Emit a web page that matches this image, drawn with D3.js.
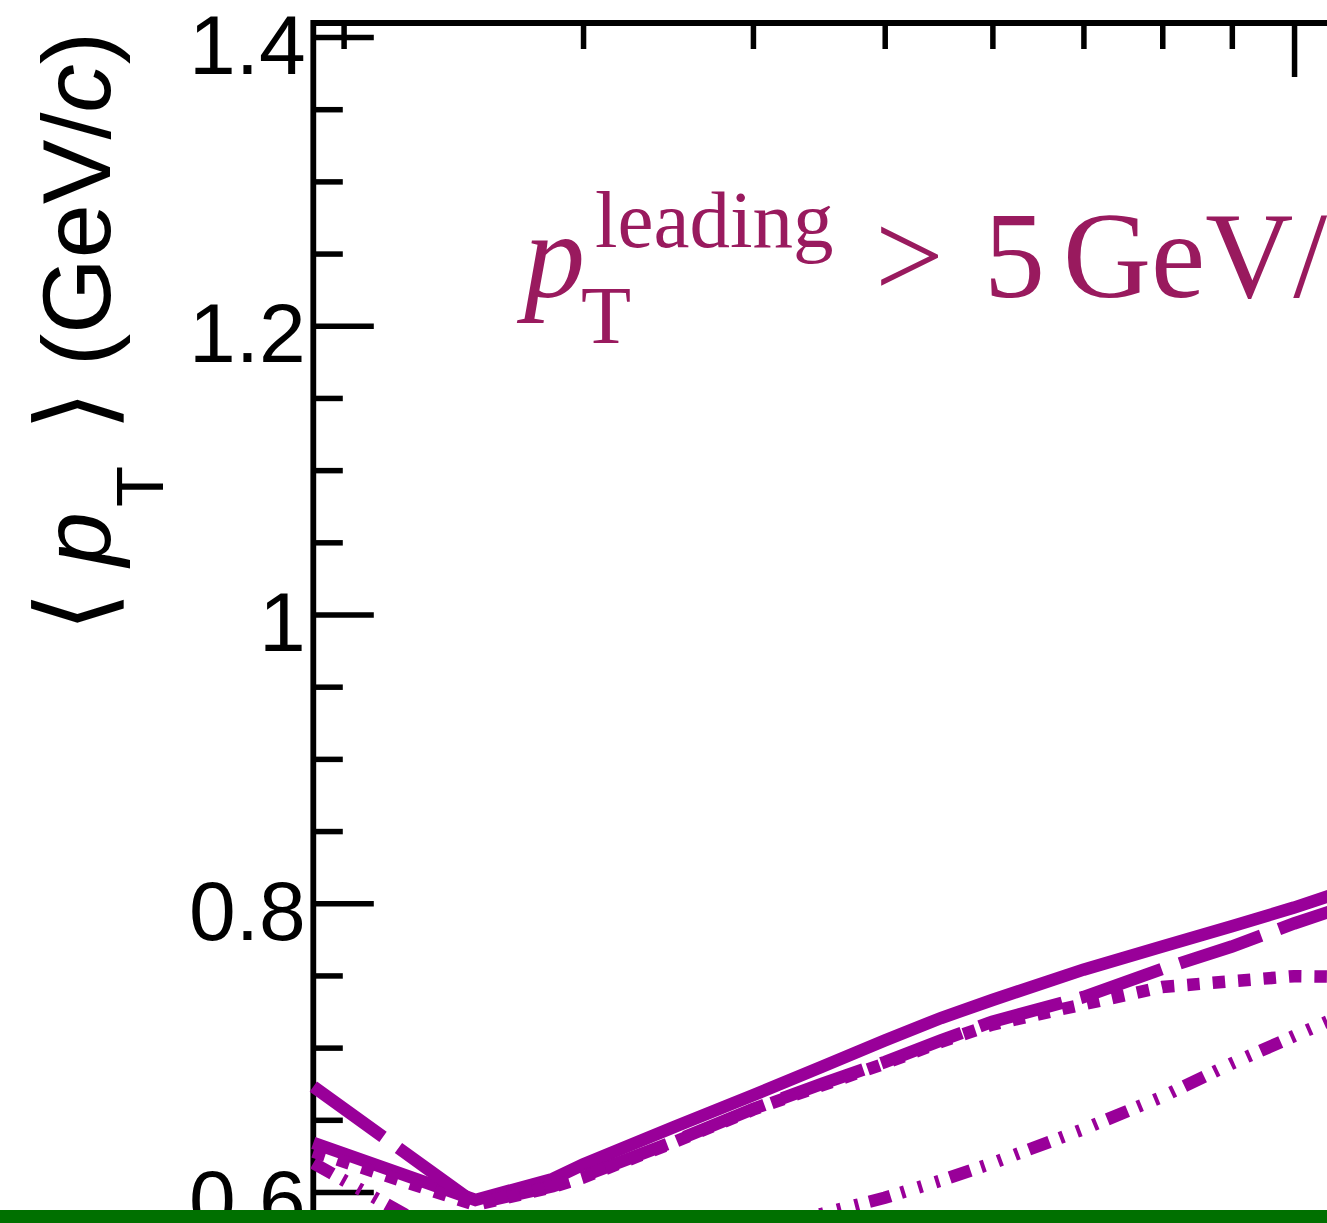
<!DOCTYPE html>
<html>
<head>
<meta charset="utf-8">
<script src="https://cdn.jsdelivr.net/npm/d3@7"></script>
<style>
  html, body { margin: 0; padding: 0; background: #fff; }
  svg { display: block; }
</style>
</head>
<body>
<script>
// Mean transverse momentum versus multiplicity, four model variants
const multiplicity   = [1.9, 2.5, 2.85, 3, 3.5, 4, 4.5, 5, 5.5, 6, 7, 8, 9, 10, 11, 12];
const meanPtSolid    = [0.634, 0.5945, 0.609, 0.619, 0.645, 0.667, 0.687, 0.705, 0.7205, 0.733, 0.754, 0.770, 0.784, 0.797, 0.810, 0.821];
const meanPtDashed   = [0.673, 0.592, 0.604, 0.611, 0.635, 0.6575, 0.675, 0.690, 0.705, 0.718, 0.735, 0.7545, 0.770, 0.786, 0.799, 0.810];
const meanPtDotted   = [0.628, 0.591, 0.6035, 0.610, 0.6345, 0.657, 0.674, 0.689, 0.704, 0.716, 0.730, 0.742, 0.746, 0.7495, 0.749, 0.747];
const meanPtDashDot  = [0.620, 0.557, 0.5495, 0.549, 0.558, 0.572, 0.585, 0.596, 0.608, 0.620, 0.6435, 0.666, 0.689, 0.708, 0.725, 0.741];

const yMajorTicks = [0.6, 0.8, 1.0, 1.2, 1.4];
const yTickLabels = ["0.6", "0.8", "1", "1.2", "1.4"];
const yMinorTicks = [0.55, 0.65, 0.7, 0.75, 0.85, 0.9, 0.95, 1.05, 1.1, 1.15, 1.25, 1.3, 1.35];
const xMinorTicks = [2, 3, 4, 5, 6, 7, 8, 9, 20, 30, 40, 50];
const xMajorTicks = [10];

const W = 1327, H = 1223;
const plotLeft = 313.3, plotTop = 23;
const pxPerDecade = 1359.8, pxPerUnit = 1443.75;
const xMin = 1.9, xMax = 60, yMin = 0.5, yMax = 1.4097;

const x = d3.scaleLog().domain([xMin, xMax])
  .range([plotLeft, plotLeft + pxPerDecade * Math.log10(xMax / xMin)]);
const y = d3.scaleLinear().domain([yMin, yMax])
  .range([plotTop + pxPerUnit * (yMax - yMin), plotTop]);

const svg = d3.select("body").append("svg")
  .attr("width", W).attr("height", H)
  .attr("viewBox", `0 0 ${W} ${H}`);

svg.append("rect").attr("width", W).attr("height", H).attr("fill", "#fff");

const ink = "#000";
const tickWidth = 5.5;

// left axis: minor ticks, then major ticks with labels
const gyMinor = svg.append("g").attr("transform", `translate(${plotLeft},0)`)
  .call(d3.axisLeft(y).tickValues(yMinorTicks).tickSize(-29.5).tickSizeOuter(0).tickFormat(""));
const gyMajor = svg.append("g").attr("transform", `translate(${plotLeft},0)`)
  .call(d3.axisLeft(y).tickValues(yMajorTicks).tickSize(-60.5).tickSizeOuter(0).tickPadding(7.5)
    .tickFormat((d, i) => yTickLabels[i]));

// top axis: ticks only, pointing into the frame
const gxMinor = svg.append("g").attr("transform", `translate(0,${plotTop})`)
  .call(d3.axisTop(x).tickValues(xMinorTicks).tickSize(-26).tickSizeOuter(0).tickFormat(""));
const gxMajor = svg.append("g").attr("transform", `translate(0,${plotTop})`)
  .call(d3.axisTop(x).tickValues(xMajorTicks).tickSize(-54).tickSizeOuter(0).tickFormat(""));

[gyMinor, gyMajor, gxMinor, gxMajor].forEach(g => {
  g.select(".domain").remove();
  g.selectAll(".tick line").attr("stroke", ink).attr("stroke-width", tickWidth);
});
gyMajor.selectAll(".tick text")
  .attr("fill", ink)
  .attr("dy", "0.43em")
  .style("font-family", "'Liberation Sans', Arial, Helvetica, sans-serif")
  .style("font-size", "84px");

// frame: left and top edges
svg.append("path")
  .attr("d", `M${plotLeft},${y(yMin)}V${plotTop}H${x(xMax)}`)
  .attr("fill", "none").attr("stroke", ink).attr("stroke-width", 5.8)
  .attr("stroke-linejoin", "miter");

// model curves
const purple = "#990099";
const curves = [
  { values: meanPtSolid,   dash: null },
  { values: meanPtDashed,  dash: "86 19" },
  { values: meanPtDotted,  dash: "12.5 13" },
  { values: meanPtDashDot, dash: "22 11 4 14 4 14 4 11" }
];
const line = d3.line()
  .x((d, i) => x(multiplicity[i]))
  .y(d => y(d));

svg.append("g").selectAll("path").data(curves).join("path")
  .attr("d", d => line(d.values))
  .attr("fill", "none")
  .attr("stroke", purple)
  .attr("stroke-width", 12.5)
  .attr("stroke-linecap", "butt")
  .attr("stroke-linejoin", "miter")
  .attr("stroke-dasharray", d => d.dash);

// y-axis title  <p_T> (GeV/c)
const yTitle = svg.append("text")
  .attr("transform", "translate(110,628) rotate(-90)")
  .attr("fill", ink)
  .style("font-family", "'Liberation Sans', Arial, Helvetica, sans-serif")
  .style("font-size", "97px");
yTitle.append("tspan").attr("x", -4).attr("y", 0)
  .style("font-family", "'DejaVu Sans', sans-serif").style("font-size", "104px").text("\u27E8");
yTitle.append("tspan").attr("x", 62).attr("y", 0).style("font-style", "italic").text("p");
yTitle.append("tspan").attr("x", 121).attr("y", 53).style("font-size", "67px").text("T");
yTitle.append("tspan").attr("x", 197).attr("y", 0)
  .style("font-family", "'DejaVu Sans', sans-serif").style("font-size", "104px").text("\u27E9");
yTitle.append("tspan").attr("x", 262).attr("y", 0).text("(GeV/");
yTitle.append("tspan").style("font-style", "italic").text("c");
yTitle.append("tspan").text(")");

// selection label
const note = svg.append("text")
  .attr("fill", "#991a5e")
  .style("font-family", "'Liberation Serif', 'Times New Roman', serif")
  .style("font-size", "122px");
note.append("tspan").attr("x", 524).attr("y", 297).style("font-style", "italic").text("p");
note.append("tspan").attr("x", 595).attr("y", 247).style("font-size", "81px").text("leading");
note.append("tspan").attr("x", 581).attr("y", 343).style("font-size", "82px").text("T");
note.append("tspan").attr("x", 875).attr("y", 297).text(">");
note.append("tspan").attr("x", 984).attr("y", 297).text("5");
note.append("tspan").attr("x", 1063).attr("y", 297).text("GeV/");
note.append("tspan").style("font-style", "italic").text("c");

// green strip along the bottom edge
svg.append("rect")
  .attr("x", 0).attr("y", 1210).attr("width", W).attr("height", H - 1210)
  .attr("fill", "#007000");
</script>
</body>
</html>
